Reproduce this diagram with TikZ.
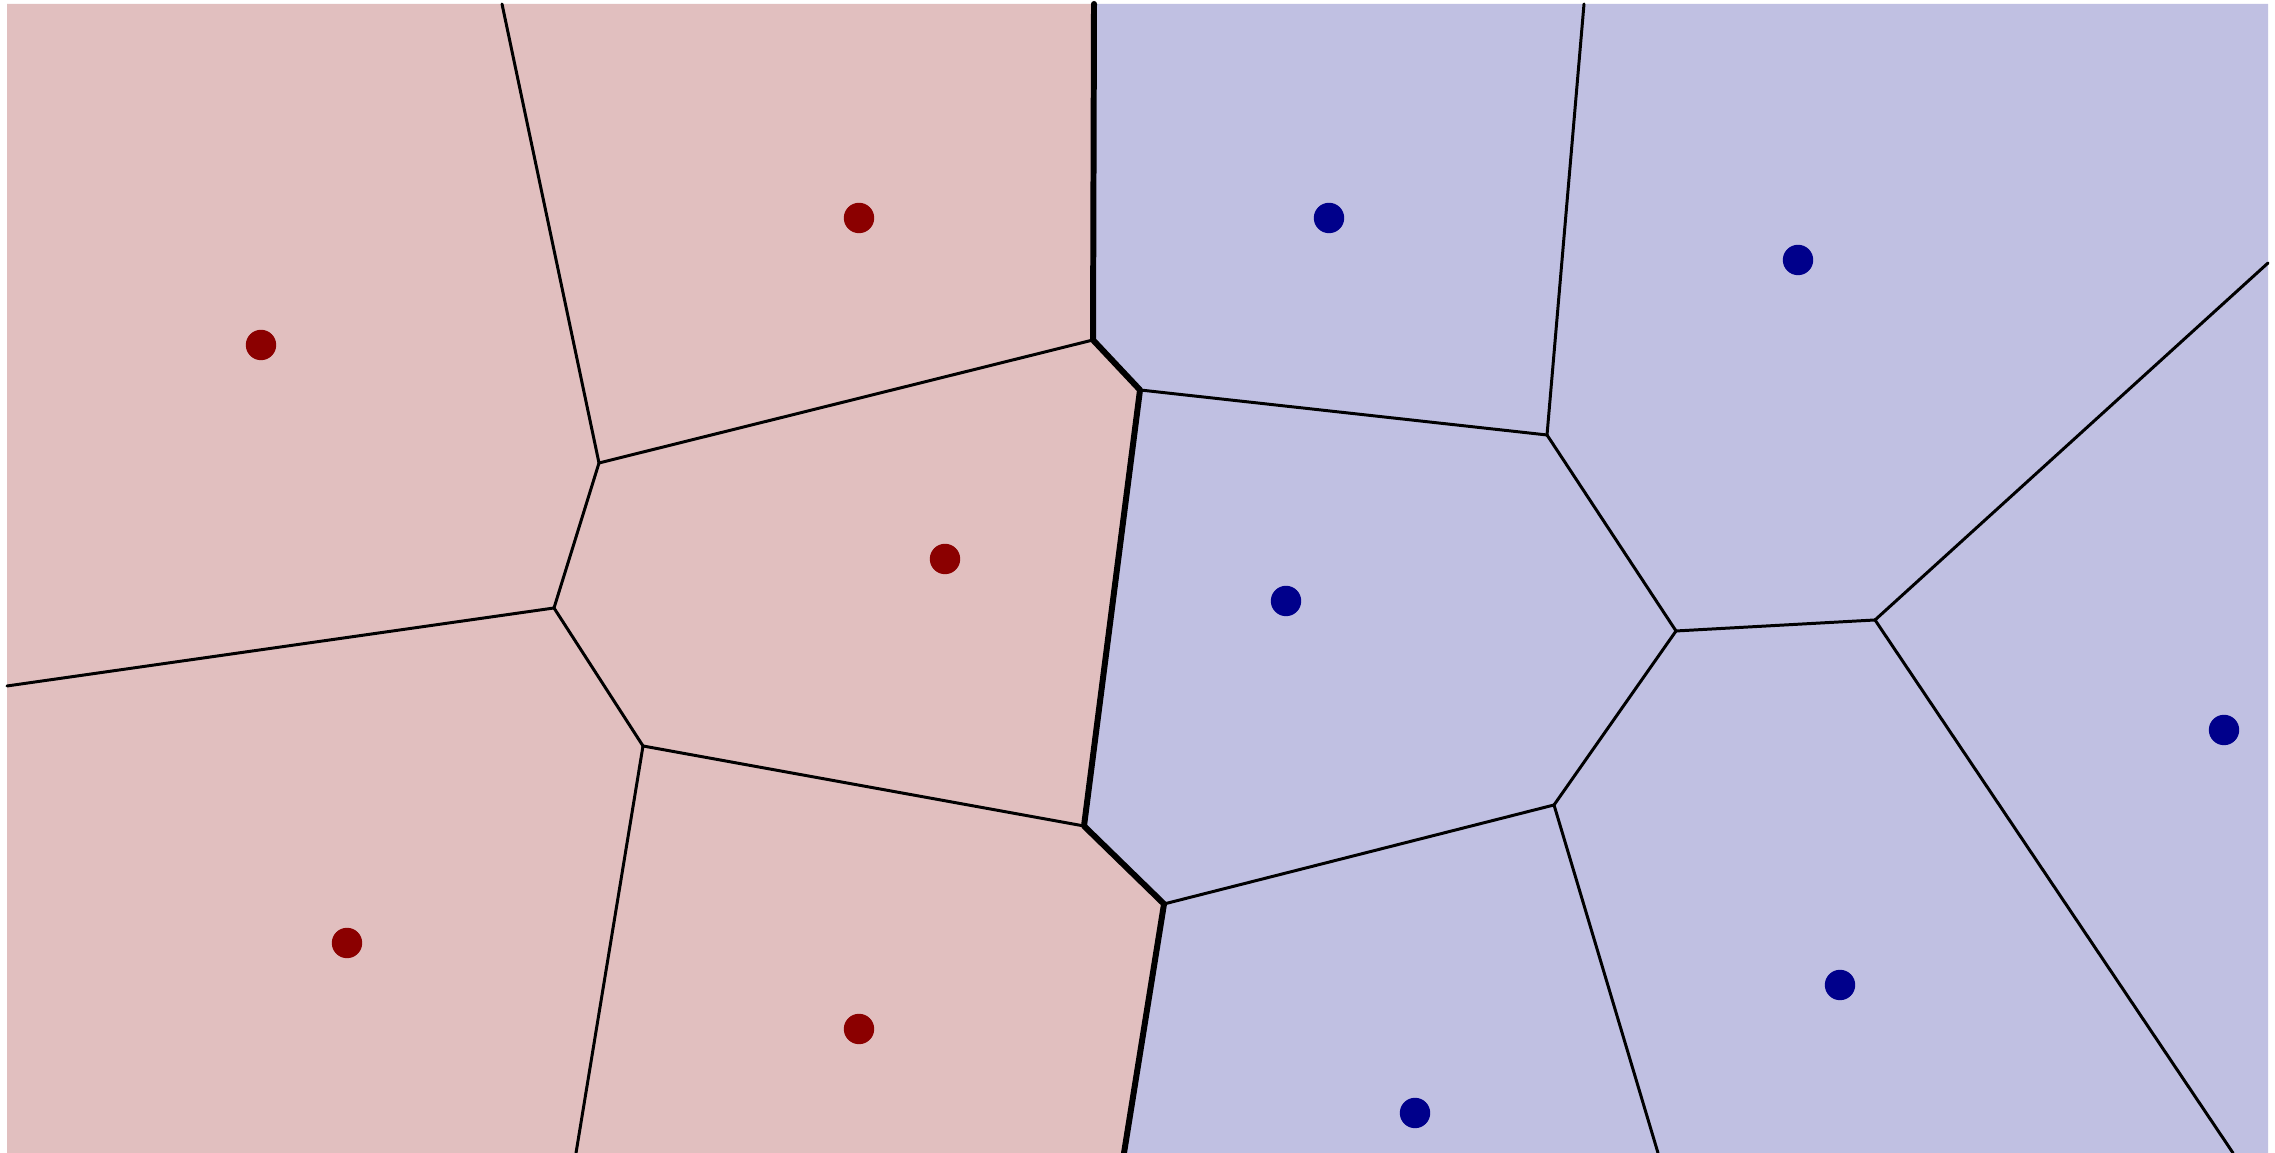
\documentclass[tikz,border=0pt]{standalone}
\usepackage{tikz}
\definecolor{redcell}{HTML}{E1BFBF}
\definecolor{bluecell}{HTML}{C0C0E2}
\definecolor{redsite}{HTML}{8B0000}
\definecolor{bluesite}{HTML}{00008B}

\begin{document}
\begin{tikzpicture}[line cap=round,line join=round,x=1.0cm,y=1.0cm]
					\useasboundingbox (0,0) rectangle (22.75,11.53);
					% vertices of the cells
					\coordinate (topa) at (5.02,11.49);
					\coordinate (topb) at (10.94,11.49);
					\coordinate (topc) at (15.84,11.49);
					\coordinate (righta) at (22.68,8.90);
					\coordinate (botd) at (22.33,0.);
					\coordinate (bota) at (5.76,0.);
					\coordinate (botb) at (11.24,0.);
					\coordinate (botc) at (16.58,0.);
					\coordinate (lefta) at (0.07,4.67);
					\coordinate (A) at (5.99,6.90);
					\coordinate (B) at (5.54,5.45);
					\coordinate (C) at (6.43,4.07);
					\coordinate (D) at (10.93,8.13);
					\coordinate (E) at (11.40,7.63);
					\coordinate (F) at (10.84,3.27);
					\coordinate (G) at (11.64,2.49);
					\coordinate (H) at (15.47,7.18);
					\coordinate (I) at (16.76,5.22);
					\coordinate (J) at (15.54,3.48);
					\coordinate (K) at (18.75,5.33);

					\fill [color=redcell] (0.07,0.) -- (0.07,11.49) -- (topb) -- (D) -- (E) -- (F) -- (G) -- (botb) -- cycle;
					\fill [color=bluecell] (topb) -- (22.68,11.49) -- (22.68,0.) -- (botb) -- (G) -- (F) -- (E) -- (D) -- cycle;

					\draw [line width=0.85pt] (topa)-- (A);
					\draw [line width=0.85pt] (A)-- (B);
					\draw [line width=0.85pt] (B)-- (lefta);
					\draw [line width=0.85pt] (B)-- (C);
					\draw [line width=0.85pt] (C)-- (bota);
					\draw [line width=0.85pt] (A)-- (D);
					\draw [line width=0.85pt] (C)-- (F);
					\draw [line width=0.85pt] (E)-- (H);
					\draw [line width=0.85pt] (H)-- (topc);
					\draw [line width=0.85pt] (H)-- (I);
					\draw [line width=0.85pt] (I)-- (J);
					\draw [line width=0.85pt] (J)-- (G);
					\draw [line width=0.85pt] (J)-- (botc);
					\draw [line width=0.85pt] (I)-- (K);
					\draw [line width=0.85pt] (K)-- (righta);
					\draw [line width=0.85pt] (K)-- (botd);
					%% frontier between the two colours
					\draw [line width=1.7pt] (topb)-- (D)-- (E)-- (F)-- (G)-- (botb);

					\draw [fill=redsite,color=redsite] (2.61,8.08) circle (0.145);
					\draw [fill=redsite,color=redsite] (8.59,9.35) circle (0.145);
					\draw [fill=redsite,color=redsite] (9.45,5.94) circle (0.145);
					\draw [fill=redsite,color=redsite] (3.47,2.10) circle (0.145);
					\draw [fill=redsite,color=redsite] (8.59,1.24) circle (0.145);

					\draw [fill=bluesite,color=bluesite] (13.29,9.35) circle (0.145);
					\draw [fill=bluesite,color=bluesite] (17.98,8.93) circle (0.145);
					\draw [fill=bluesite,color=bluesite] (12.86,5.52) circle (0.145);
					\draw [fill=bluesite,color=bluesite] (22.24,4.23) circle (0.145);
					\draw [fill=bluesite,color=bluesite] (18.40,1.68) circle (0.145);
					\draw [fill=bluesite,color=bluesite] (14.15,0.40) circle (0.145);
				\end{tikzpicture}
\end{document}
